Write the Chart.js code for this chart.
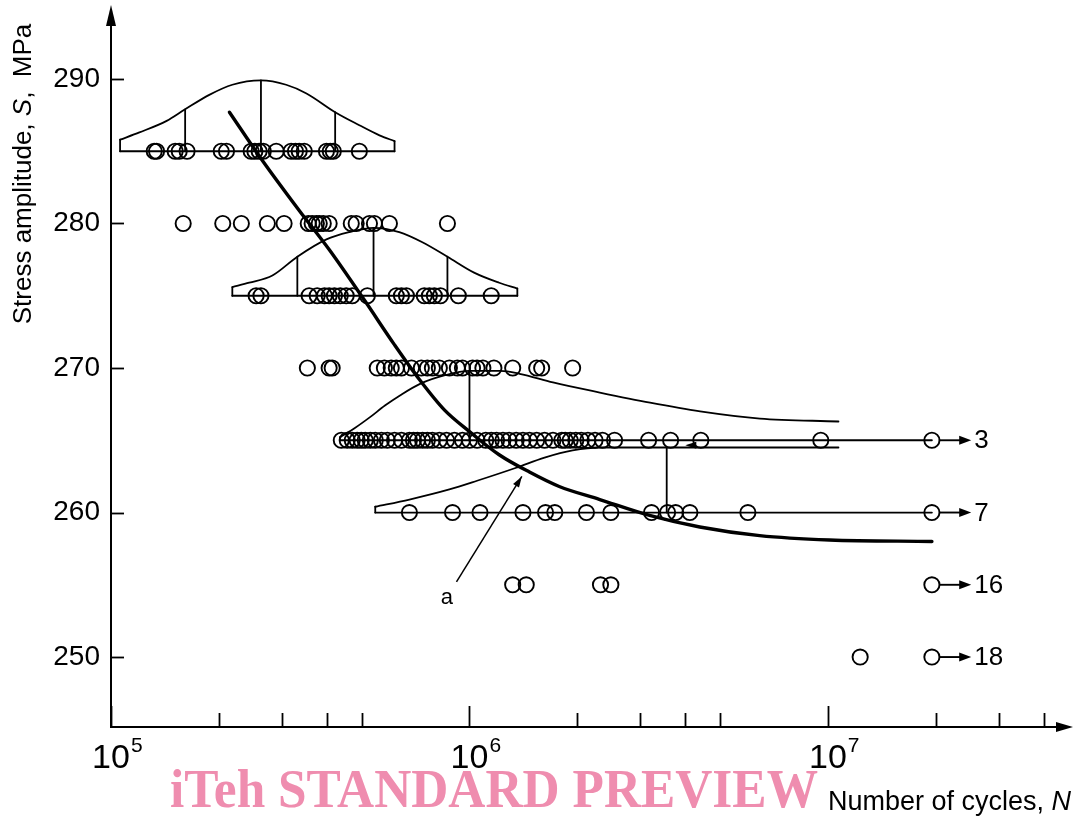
<!DOCTYPE html>
<html><head><meta charset="utf-8">
<script src="https://cdn.jsdelivr.net/npm/chart.js@4.4.1/dist/chart.umd.min.js"></script>
<style>html,body{margin:0;padding:0;background:#fff;overflow:hidden}canvas{display:block}</style>
</head><body>
<canvas id="c" width="1075" height="820"></canvas>
<script>
// ---------- data (N = number of cycles, S = stress amplitude MPa) ----------
const yTicks = [250, 260, 270, 280, 290];
const xMajorTicks = [1e5, 1e6, 1e7];
const xMajorExp = ['5', '6', '7'];
const xMinorTicks = [2e5, 3e5, 4e5, 5e5, 2e6, 3e6, 4e6, 5e6, 2e7, 3e7, 4e7];

const N285 = [1.32e5, 1.34e5, 1.51e5, 1.55e5, 1.63e5, 2.03e5, 2.10e5, 2.46e5, 2.52e5, 2.59e5, 2.66e5, 2.89e5, 3.18e5, 3.27e5, 3.35e5, 3.46e5, 3.99e5, 4.09e5, 4.17e5, 4.93e5];
const N280 = [1.59e5, 2.05e5, 2.31e5, 2.73e5, 3.04e5, 3.55e5, 3.64e5, 3.74e5, 3.81e5, 3.91e5, 4.06e5, 4.68e5, 4.83e5, 5.26e5, 5.43e5, 5.98e5, 8.68e5];
const N275 = [2.54e5, 2.62e5, 3.57e5, 3.76e5, 3.94e5, 4.06e5, 4.20e5, 4.36e5, 4.53e5, 4.71e5, 5.19e5, 6.25e5, 6.46e5, 6.67e5, 7.48e5, 7.73e5, 7.98e5, 8.30e5, 9.31e5, 1.15e6];
const N270 = [3.53e5, 4.06e5, 4.14e5, 5.53e5, 5.79e5, 6.05e5, 6.25e5, 6.46e5, 6.89e5, 7.34e5, 7.63e5, 7.88e5, 8.24e5, 8.79e5, 9.25e5, 9.56e5, 1.02e6, 1.05e6, 1.09e6, 1.17e6, 1.32e6, 1.54e6, 1.59e6, 1.94e6];
const N265 = [4.39e5, 4.56e5, 4.71e5, 4.86e5, 4.99e5, 5.12e5, 5.29e5, 5.46e5, 5.68e5, 5.90e5, 6.18e5, 6.46e5, 6.80e5, 6.98e5, 7.16e5, 7.40e5, 7.63e5, 7.88e5, 8.24e5, 8.63e5, 9.08e5, 9.56e5, 1.00e6, 1.05e6, 1.11e6, 1.15e6, 1.19e6, 1.24e6, 1.29e6, 1.35e6, 1.41e6, 1.47e6, 1.54e6, 1.62e6, 1.71e6, 1.81e6, 1.85e6, 1.91e6, 1.98e6, 2.05e6, 2.14e6, 2.24e6, 2.35e6, 2.54e6, 3.16e6, 3.64e6, 4.42e6, 9.55e6, 1.95e7];
const N260 = [6.80e5, 8.97e5, 1.07e6, 1.41e6, 1.63e6, 1.73e6, 2.12e6, 2.48e6, 3.22e6, 3.57e6, 3.76e6, 4.12e6, 5.98e6, 1.95e7];
const N255 = [1.32e6, 1.44e6, 2.32e6, 2.48e6, 1.95e7];
const N250 = [1.23e7, 1.95e7];

// run-outs (unbroken specimens) at the end of the test
const runoutS = [265, 260, 255, 250];
const runoutCount = ['3', '7', '16', '18'];
const runoutN = 1.95e7;
const runoutTipN = 2.51e7;

// median S-N curve
const snN = [2.14e5, 2.62e5, 3.35e5, 4.06e5, 5.09e5, 6.18e5, 7.25e5, 8.51e5, 1.0e6, 1.21e6, 1.47e6, 1.78e6, 2.31e6, 3.18e6, 4.39e6, 6.45e6, 1.01e7, 1.95e7];
const snS = [287.7, 284.5, 280.9, 278.2, 274.7, 271.6, 269.2, 267.1, 265.6, 264.0, 262.8, 261.8, 260.9, 259.8, 259.0, 258.4, 258.1, 258.0];

// distribution outlines drawn over stress levels
const dist285N = [1.06e5, 1.20e5, 1.43e5, 1.61e5, 1.88e5, 2.18e5, 2.62e5, 3.08e5, 3.51e5, 4.22e5, 4.93e5, 5.61e5, 6.18e5];
const dist285S = [285.8, 286.3, 287.1, 287.9, 288.9, 289.6, 289.9, 289.6, 289.0, 287.7, 286.8, 286.1, 285.7];
const dist275N = [2.18e5, 2.43e5, 2.82e5, 3.31e5, 3.99e5, 4.62e5, 5.40e5, 6.37e5, 7.39e5, 8.68e5, 1.03e6, 1.21e6, 1.36e6];
const dist275S = [275.6, 275.9, 276.4, 277.7, 278.9, 279.4, 279.7, 279.4, 278.7, 277.7, 276.6, 275.9, 275.5];
const dist265N = [4.35e5, 4.79e5, 5.28e5, 5.81e5, 6.40e5, 7.28e5, 8.55e5, 1.00e6, 1.22e6, 1.38e6, 1.71e6, 2.31e6, 3.19e6, 4.40e6, 6.46e6, 1.07e7];
const dist265S = [265.2, 265.85, 266.6, 267.4, 268.1, 268.9, 269.5, 269.8, 269.8, 269.6, 269.0, 268.3, 267.6, 267.0, 266.5, 266.3];
const dist260N = [5.46e5, 6.80e5, 8.79e5, 1.05e6, 1.35e6, 1.62e6, 1.94e6, 2.31e6, 4.39e6, 1.07e7];
const dist260S = [260.4, 260.9, 261.6, 262.2, 263.1, 263.8, 264.3, 264.5, 264.5, 264.5];

// vertical lines inside the distributions (quantiles and closing edges)
const vertN    = [1.61e5, 2.62e5, 4.22e5, 3.31e5, 5.40e5, 8.68e5, 1.0e6, 3.55e6, 1.06e5, 6.18e5, 2.18e5, 1.36e6, 4.35e5, 5.46e5];
const vertLow  = [285, 285, 285, 275, 275, 275, 265, 260, 285, 285, 275, 275, 265, 260];
const vertHigh = [287.9, 289.9, 287.7, 277.7, 279.7, 277.7, 269.8, 264.5, 285.8, 285.7, 275.6, 275.5, 265.2, 260.4];

// horizontal base lines of the stress levels
const rowLineS     = [285, 275, 265, 260];
const rowLineStart = [1.06e5, 2.18e5, 4.35e5, 5.46e5];
const rowLineEnd   = [6.18e5, 1.36e6, 1.95e7, 1.95e7];

// annotation "a" and the small left-pointing arrow on the 265 MPa line
const aLabel = {n: 8.65e5, s: 254.1, text: 'a'};
const aArrow = {n0: 9.2e5, s0: 255.2, n1: 1.40e6, s1: 262.5};
const leftArrow = {n: 4.0e6, s: 264.65};

// ---------- build datasets ----------
const zip = (ns, ss) => ns.map((n, i) => ({x: n, y: ss[i]}));
const level = (ns, s) => ns.map(n => ({x: n, y: s}));
const vertData = [];
vertN.forEach((n, i) => { vertData.push({x: n, y: vertLow[i]}, {x: n, y: vertHigh[i]}, {x: n, y: null}); });
const rowData = [];
rowLineS.forEach((s, i) => { rowData.push({x: rowLineStart[i], y: s}, {x: rowLineEnd[i], y: s}, {x: rowLineEnd[i], y: null}); });

const lineDs = (data, w, mono) => ({data, showLine: true, borderColor: '#000', borderWidth: w, pointRadius: 0,
  fill: false, cubicInterpolationMode: mono ? 'monotone' : 'default', tension: 0, spanGaps: false,
  borderCapStyle: 'round', borderJoinStyle: 'round'});
const ptDs = (data) => ({data, showLine: false, pointRadius: 7.6, pointHoverRadius: 7.6, pointBorderWidth: 1.9,
  borderColor: '#000', backgroundColor: 'rgba(0,0,0,0)', pointBackgroundColor: 'rgba(0,0,0,0)'});

const datasets = [
  lineDs(zip(snN, snS), 3.4, true),
  lineDs(zip(dist285N, dist285S), 1.8, true),
  lineDs(zip(dist275N, dist275S), 1.8, true),
  lineDs(zip(dist265N, dist265S), 1.8, true),
  lineDs(zip(dist260N, dist260S), 1.8, true),
  lineDs(vertData, 1.8, false),
  lineDs(rowData, 1.8, false),
  ptDs(level(N285, 285)), ptDs(level(N280, 280)), ptDs(level(N275, 275)), ptDs(level(N270, 270)),
  ptDs(level(N265, 265)), ptDs(level(N260, 260)), ptDs(level(N255, 255)), ptDs(level(N250, 250))
];

const FONT = '"Liberation Sans", Arial, Helvetica, sans-serif';
Chart.defaults.font.family = FONT;

function head(ctx, tx, ty, ang, len, hw) {
  ctx.save(); ctx.translate(tx, ty); ctx.rotate(ang);
  ctx.beginPath(); ctx.moveTo(0, 0); ctx.lineTo(-len, -hw); ctx.lineTo(-len, hw); ctx.closePath(); ctx.fill();
  ctx.restore();
}

const deco = {
  id: 'deco',
  beforeDraw(chart) {
    const ctx = chart.ctx; ctx.save(); ctx.fillStyle = '#fff'; ctx.fillRect(0, 0, chart.width, chart.height); ctx.restore();
  },
  afterDatasetsDraw(chart) {
    const {ctx, chartArea: ca} = chart;
    const x = chart.scales.x, y = chart.scales.y;
    ctx.save();
    ctx.strokeStyle = '#000'; ctx.fillStyle = '#000';
    // axis extensions with arrows
    ctx.lineWidth = 2;
    ctx.beginPath(); ctx.moveTo(ca.left, ca.top + 1); ctx.lineTo(ca.left, 14); ctx.stroke();
    head(ctx, ca.left, 5, -Math.PI / 2, 21, 5);
    ctx.beginPath(); ctx.moveTo(ca.right - 1, ca.bottom); ctx.lineTo(1062, ca.bottom); ctx.stroke();
    head(ctx, 1073, ca.bottom, 0, 17, 5);
    // y ticks (inward)
    ctx.lineWidth = 1.8;
    yTicks.forEach(v => { const py = Math.round(y.getPixelForValue(v)) + 0.5;
      ctx.beginPath(); ctx.moveTo(ca.left, py); ctx.lineTo(ca.left + 13, py); ctx.stroke(); });
    // x ticks (inward)
    xMajorTicks.forEach(v => { const px = Math.round(x.getPixelForValue(v)) + 0.5;
      ctx.beginPath(); ctx.moveTo(px, ca.bottom); ctx.lineTo(px, ca.bottom - 21); ctx.stroke(); });
    xMinorTicks.forEach(v => { const px = Math.round(x.getPixelForValue(v)) + 0.5;
      ctx.beginPath(); ctx.moveTo(px, ca.bottom); ctx.lineTo(px, ca.bottom - 14); ctx.stroke(); });
    // x tick labels 10^n
    ctx.textBaseline = 'alphabetic';
    xMajorTicks.forEach((v, i) => {
      const px = x.getPixelForValue(v);
      ctx.font = '34px ' + FONT; ctx.textAlign = 'center';
      const w = ctx.measureText('10').width;
      ctx.fillText('10', px, ca.bottom + 41);
      ctx.font = '21px ' + FONT; ctx.textAlign = 'left';
      ctx.fillText(xMajorExp[i], px + w / 2 + 1, ca.bottom + 25);
    });
    // run-out arrows and counts
    ctx.lineWidth = 1.9;
    runoutS.forEach((s, i) => {
      const py = y.getPixelForValue(s);
      const x0 = x.getPixelForValue(runoutN) + 7, x1 = x.getPixelForValue(runoutTipN);
      ctx.beginPath(); ctx.moveTo(x0, py); ctx.lineTo(x1 - 8, py); ctx.stroke();
      head(ctx, x1, py, 0, 12, 4.5);
      ctx.font = '26px ' + FONT; ctx.textAlign = 'left'; ctx.textBaseline = 'middle';
      ctx.fillText(runoutCount[i], x1 + 3, py + 1);
    });
    // small left-pointing arrowhead on the 265 level
    head(ctx, x.getPixelForValue(leftArrow.n), y.getPixelForValue(leftArrow.s), Math.PI, 11, 3.5);
    // annotation a
    const ax0 = x.getPixelForValue(aArrow.n0), ay0 = y.getPixelForValue(aArrow.s0);
    const ax1 = x.getPixelForValue(aArrow.n1), ay1 = y.getPixelForValue(aArrow.s1);
    ctx.lineWidth = 1.5;
    ctx.beginPath(); ctx.moveTo(ax0, ay0); ctx.lineTo(ax1, ay1); ctx.stroke();
    head(ctx, ax1, ay1, Math.atan2(ay1 - ay0, ax1 - ax0), 11, 3.5);
    ctx.font = '22px ' + FONT; ctx.textAlign = 'center'; ctx.textBaseline = 'middle';
    ctx.fillText(aLabel.text, x.getPixelForValue(aLabel.n), y.getPixelForValue(aLabel.s));
    ctx.restore();
  },
  afterDraw(chart) {
    const ctx = chart.ctx;
    ctx.save(); ctx.fillStyle = '#000'; ctx.textBaseline = 'alphabetic';
    // y-axis title
    ctx.translate(31, 174); ctx.rotate(-Math.PI / 2);
    const parts = [['Stress amplitude, ', ''], ['S', 'italic '], [',  MPa', '']];
    let tw = 0;
    parts.forEach(p => { ctx.font = p[1] + '26px ' + FONT; tw += ctx.measureText(p[0]).width; });
    let cx = -tw / 2;
    parts.forEach(p => { ctx.font = p[1] + '26px ' + FONT; ctx.textAlign = 'left'; ctx.fillText(p[0], cx, 0); cx += ctx.measureText(p[0]).width; });
    ctx.restore();
    // x-axis title
    ctx.save(); ctx.fillStyle = '#000'; ctx.textBaseline = 'alphabetic'; ctx.textAlign = 'left';
    ctx.font = '27px ' + FONT;
    ctx.fillText('Number of cycles, ', 828, 810);
    const w1 = ctx.measureText('Number of cycles, ').width;
    ctx.font = 'italic 27px ' + FONT;
    ctx.fillText('N', 828 + w1, 810);
    ctx.restore();
    // watermark
    ctx.save();
    ctx.font = 'bold 55px "Liberation Serif", "Times New Roman", serif';
    ctx.fillStyle = '#ef8daf';
    const txt = 'iTeh STANDARD PREVIEW';
    const ww = ctx.measureText(txt).width;
    ctx.translate(170, 807); ctx.scale(648 / ww, 1);
    ctx.textAlign = 'left'; ctx.textBaseline = 'alphabetic';
    ctx.fillText(txt, 0, 0);
    ctx.restore();
  }
};

new Chart(document.getElementById('c'), {
  type: 'scatter',
  data: {datasets},
  options: {
    responsive: false, animation: false, events: [],
    layout: {padding: {left: 0, right: 15, top: 20, bottom: 0}},
    plugins: {legend: {display: false}, tooltip: {enabled: false}, title: {display: false}},
    scales: {
      x: {type: 'logarithmic', min: 1e5, max: 4.44e7,
        grid: {display: false, drawTicks: false}, border: {display: true, color: '#000', width: 2},
        ticks: {display: false},
        afterFit: s => { s.height = 93; s.paddingLeft = 0; s.paddingRight = 0; }},
      y: {type: 'linear', min: 245.16, max: 294.08,
        grid: {display: false, drawTicks: false}, border: {display: true, color: '#000', width: 2},
        ticks: {color: '#000', font: {size: 28, family: FONT}, padding: 11},
        afterBuildTicks: s => { s.ticks = yTicks.map(v => ({value: v})); },
        afterFit: s => { s.width = 111; s.paddingTop = 0; s.paddingBottom = 0; }}
    }
  },
  plugins: [deco]
});
</script>
</body></html>
